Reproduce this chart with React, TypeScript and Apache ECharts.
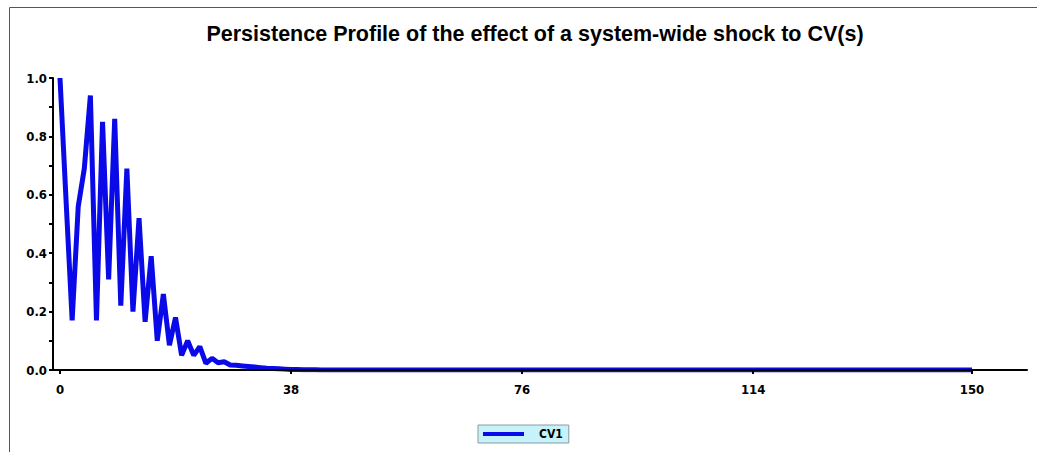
import React, { useEffect, useRef } from "react";
import * as echarts from "echarts";

const TITLE = "Persistence Profile of the effect of a system-wide shock to CV(s)";
const SERIES_NAME = "CV1";
const X_TICKS = [0, 38, 76, 114, 150];
const Y_TICKS = [0, 0.1, 0.2, 0.3, 0.4, 0.5, 0.6, 0.7, 0.8, 0.9, 1.0];
const Y_LABELS = [0, 0.2, 0.4, 0.6, 0.8, 1.0];

// horizon 0..150
const CV1 = [
  1.0, 0.58, 0.17, 0.56, 0.69, 0.94, 0.17, 0.85, 0.31, 0.86,
  0.22, 0.69, 0.2, 0.52, 0.165, 0.39, 0.1, 0.26, 0.085, 0.18,
  0.05, 0.1, 0.05, 0.08, 0.023, 0.04, 0.025, 0.028, 0.017, 0.016,
  0.014, 0.012, 0.01, 0.008, 0.006, 0.005, 0.004, 0.003, 0.002, 0.002,
  0.001, 0.001, 0.001, 0, 0, 0, 0, 0, 0, 0,
  0, 0, 0, 0, 0, 0, 0, 0, 0, 0,
  0, 0, 0, 0, 0, 0, 0, 0, 0, 0,
  0, 0, 0, 0, 0, 0, 0, 0, 0, 0,
  0, 0, 0, 0, 0, 0, 0, 0, 0, 0,
  0, 0, 0, 0, 0, 0, 0, 0, 0, 0,
  0, 0, 0, 0, 0, 0, 0, 0, 0, 0,
  0, 0, 0, 0, 0, 0, 0, 0, 0, 0,
  0, 0, 0, 0, 0, 0, 0, 0, 0, 0,
  0, 0, 0, 0, 0, 0, 0, 0, 0, 0,
  0, 0, 0, 0, 0, 0, 0, 0, 0, 0,
  0,
];

const LABEL_FONT = "'Liberation Sans Narrow', 'DejaVu Sans Condensed', 'Liberation Sans', sans-serif";

export default function App() {
  const ref = useRef<HTMLDivElement>(null);
  useEffect(() => {
    if (!ref.current) return;
    const chart = echarts.init(ref.current, undefined, { renderer: "svg" });
    chart.setOption({
      animation: false,
      backgroundColor: "#ffffff",
      title: {
        text: TITLE,
        left: 530,
        textAlign: "center",
        top: 18,
        textStyle: {
          fontFamily: "'Liberation Sans', Arial, sans-serif",
          fontWeight: "bold",
          fontSize: 21.5,
          color: "#000",
        },
      },
      graphic: [
        {
          type: "rect",
          left: 7,
          top: 5,
          shape: { width: 1100, height: 500 },
          style: { fill: "none", stroke: "#555", lineWidth: 1 },
          silent: true,
          z: -1,
        },
      ],
      legend: {
        left: 478,
        top: 425,
        data: [SERIES_NAME],
        icon: "rect",
        itemWidth: 41,
        itemHeight: 4,
        padding: [3, 6, 3, 5],
        backgroundColor: "#c6f2fb",
        borderColor: "#8a9a9e",
        borderWidth: 1,
        textStyle: {
          fontFamily: LABEL_FONT,
          fontWeight: "bold",
          fontSize: 12,
          color: "#000",
          padding: [0, 0, 0, 10],
        },
      },
      grid: { left: 53, right: 10, top: 78, bottom: 82, containLabel: false },
      xAxis: {
        type: "value",
        min: -1.15,
        max: 159.05,
        z: 5,
        splitLine: { show: false },
        axisLine: { onZero: false, lineStyle: { color: "#000", width: 2 } },
        axisTick: {
          customValues: X_TICKS,
          length: 4,
          lineStyle: { color: "#000", width: 2 },
        },
        axisLabel: {
          customValues: X_TICKS,
          margin: 13,
          fontFamily: LABEL_FONT,
          fontWeight: "bold",
          fontSize: 13,
          color: "#000",
        },
      },
      yAxis: {
        type: "value",
        min: 0,
        max: 1,
        splitLine: { show: false },
        axisLine: { show: true, onZero: false, lineStyle: { color: "#000", width: 2 } },
        axisTick: {
          show: true,
          customValues: Y_TICKS,
          length: 4,
          lineStyle: { color: "#000", width: 2 },
        },
        axisLabel: {
          customValues: Y_LABELS,
          margin: 6,
          formatter: (v: number) => v.toFixed(1),
          fontFamily: LABEL_FONT,
          fontWeight: "bold",
          fontSize: 13,
          color: "#000",
        },
      },
      series: [
        {
          name: SERIES_NAME,
          type: "line",
          data: CV1.map((v, i) => [i, v]),
          symbol: "none",
          color: "#0a0ae8",
          lineStyle: { color: "#0a0ae8", width: 5 },
          z: 2,
        },
      ],
    });
    return () => chart.dispose();
  }, []);
  return (
    <div
      ref={ref}
      style={{ position: "fixed", left: 0, top: 0, width: 1037, height: 452 }}
    />
  );
}
